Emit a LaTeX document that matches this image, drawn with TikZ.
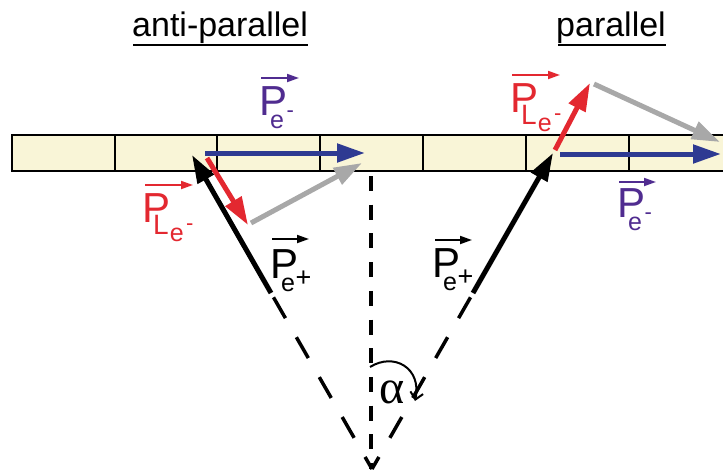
\documentclass[tikz,border=0pt]{standalone}
\usepackage{fontspec}
\setmainfont{Liberation Sans}
\newfontfamily\greekserif{Liberation Serif}
\usetikzlibrary{arrows.meta,calc}
\definecolor{cRed}{RGB}{227,40,48}
\definecolor{cPurple}{RGB}{80,44,144}
\definecolor{cBlue}{RGB}{46,58,146}
\definecolor{cGray}{RGB}{168,168,168}
\definecolor{cCream}{RGB}{249,245,215}
\newcommand\labPe[1]{\fontsize{42}{42}\selectfont P\kern-17pt\raisebox{-13pt}{\fontsize{25}{25}\selectfont e#1}}
\newcommand\labPL{\fontsize{42}{42}\selectfont P\kern-17pt\raisebox{-12pt}{\fontsize{28}{28}\selectfont L\kern1pt\raisebox{-7.5pt}{\fontsize{25}{25}\selectfont e\kern2.5pt\raisebox{11pt}{\fontsize{22}{22}\selectfont -}}}}
\newcommand\sgnMinus{\kern2.5pt\raisebox{11pt}{\fontsize{22}{22}\selectfont -}}
\newcommand\sgnPlus{\kern0.5pt\raisebox{5pt}{\fontsize{27}{27}\selectfont +}}
\begin{document}
\begin{tikzpicture}[x=1pt,y=-1pt,
  bigarrow/.style={line width=5pt,-{Triangle[length=28pt,width=18pt]}},
  lblarrow/.style={line width=1.8pt,-{Triangle[length=12pt,width=8pt]}},
  lbl/.style={inner sep=0pt,anchor=base west},
  guide/.style={line width=3.5pt,dash pattern=on 24pt off 22pt,dash phase=41pt},
  centerline/.style={line width=3.5pt,dash pattern=on 15pt off 13.7pt},
  title/.style={inner sep=0pt,anchor=base west,font=\fontsize{34}{34}\selectfont}]
\useasboundingbox (0,0) rectangle (723,469);
\clip (0,0) rectangle (723,469);
% bar
\draw[line width=2.6pt,fill=cCream] (12,135) rectangle (760,171);
\foreach \x in {115,217,320,423,526,629}
  \draw[line width=2pt] (\x,135) -- (\x,171);
% coordinates
\coordinate (V) at (372,469);
\coordinate (Lsol) at (271,293);
\coordinate (Ltip) at (192,155);
\coordinate (Rsol) at (473,293);
\coordinate (Rtip) at (553,153);
\coordinate (Ctop) at (371,176);
\coordinate (Cbot) at (371,469);
\coordinate (LredS) at (207,158);
\coordinate (LredE) at (248,225);
\coordinate (LgrayS) at (251,223);
\coordinate (LgrayE) at (362,163);
\coordinate (LblueS) at (205,153);
\coordinate (LblueE) at (365,153);
\coordinate (RredS) at (555,150);
\coordinate (RredE) at (590,83);
\coordinate (RgrayS) at (594,84);
\coordinate (RgrayE) at (720,142);
\coordinate (RblueS) at (560,154);
\coordinate (RblueE) at (721,154);
\coordinate (arcS) at (370,367);
\coordinate (arcE) at (415,401);
% dashed guides
\draw[guide] (Lsol) -- (V);
\draw[guide] (Rsol) -- (V);
\draw[centerline] (Ctop) -- (Cbot);
% black arrows
\draw[bigarrow,black] (Lsol) -- (Ltip);
\draw[bigarrow,black] (Rsol) -- (Rtip);
% gray
\draw[bigarrow,cGray] (LgrayS) -- (LgrayE);
\draw[bigarrow,cGray] (RgrayS) -- (RgrayE);
% red
\draw[bigarrow,cRed] (LredS) -- (LredE);
\draw[bigarrow,cRed] (RredS) -- (RredE);
% blue
\draw[bigarrow,cBlue] (LblueS) -- (LblueE);
\draw[bigarrow,cBlue] (RblueS) -- (RblueE);
% alpha
\draw[line width=2pt,-{Straight Barb[length=7pt,width=13pt]}] (arcS) .. controls (394,352) and (422,368) .. (arcE);
\node[inner sep=0pt] (al) at (392,392) {\greekserif\fontsize{48}{48}\selectfont α};
% titles
\node[title] (tA) at (132,36) {anti-parallel};
\node[title] (tP) at (556,36) {parallel};
\draw[line width=2.6pt] ($(tA.base west)+(1,9)$) -- ($(tA.base east)+(0,9)$);
\draw[line width=2.6pt] ($(tP.base west)+(2,9)$) -- ($(tP.base east)+(0,9)$);
% labels
\node[lbl,text=cPurple] (pA) at (259,115) {\labPe{\sgnMinus}};
\draw[lblarrow,cPurple] ($(pA.base west)+(2,-37)$) -- +(38,0);
\node[lbl,text=cPurple] (pB) at (617,217) {\labPe{\sgnMinus}};
\draw[lblarrow,cPurple] ($(pB.base west)+(2,-35)$) -- +(37,0);
\node[lbl,text=black] (pC) at (270,278) {\labPe{\sgnPlus}};
\draw[lblarrow,black] ($(pC.base west)+(2,-39)$) -- +(37,0);
\node[lbl,text=black] (pD) at (432,277) {\labPe{\sgnPlus}};
\draw[lblarrow,black] ($(pD.base west)+(3,-37)$) -- +(37,0);
\node[lbl,text=cRed] (pE) at (142,222) {\labPL};
\draw[lblarrow,cRed] ($(pE.base west)+(3,-37)$) -- +(48,0);
\node[lbl,text=cRed] (pF) at (510,112) {\labPL};
\draw[lblarrow,cRed] ($(pF.base west)+(2,-37)$) -- +(48,0);
\end{tikzpicture}
\end{document}
